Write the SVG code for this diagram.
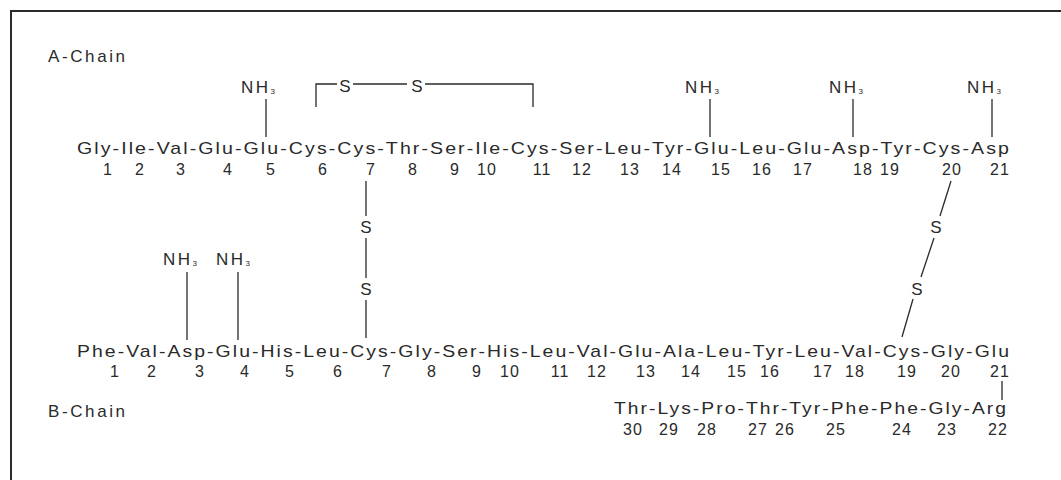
<svg xmlns="http://www.w3.org/2000/svg" width="1061" height="480" viewBox="0 0 1061 480">
<style>
text{font-family:"Liberation Sans",Arial,sans-serif;fill:#2a2a2a;}
.seq{font-size:17px;letter-spacing:1.8px;}
.num{font-size:16px;text-anchor:middle;letter-spacing:1px;}
.lbl{font-size:17px;letter-spacing:2.6px;}
.s{font-size:17px;text-anchor:middle;}
.nh{font-size:17px;letter-spacing:2.5px;}
.sub{font-size:8px;letter-spacing:0;}
.ln{stroke:#2a2a2a;stroke-width:1.3;fill:none;}
</style>
<rect width="1061" height="480" fill="#ffffff"/>
<polyline points="11,480 11,11 1061,11" fill="none" stroke="#2a2a2a" stroke-width="2"/>

<g id="a-chain">
<text class="lbl" x="48" y="62">A-Chain</text>
<text class="seq" x="77" y="154" textLength="934" lengthAdjust="spacingAndGlyphs">Gly-Ile-Val-Glu-Glu-Cys-Cys-Thr-Ser-Ile-Cys-Ser-Leu-Tyr-Glu-Leu-Glu-Asp-Tyr-Cys-Asp</text>
<g>
<text class="num" x="108" y="175">1</text>
<text class="num" x="140" y="175">2</text>
<text class="num" x="181" y="175">3</text>
<text class="num" x="228" y="175">4</text>
<text class="num" x="271" y="175">5</text>
<text class="num" x="323" y="175">6</text>
<text class="num" x="371" y="175">7</text>
<text class="num" x="413" y="175">8</text>
<text class="num" x="455" y="175">9</text>
<text class="num" x="487" y="175">10</text>
<text class="num" x="542" y="175">11</text>
<text class="num" x="582" y="175">12</text>
<text class="num" x="630" y="175">13</text>
<text class="num" x="672" y="175">14</text>
<text class="num" x="721" y="175">15</text>
<text class="num" x="762" y="175">16</text>
<text class="num" x="803" y="175">17</text>
<text class="num" x="863" y="175">18</text>
<text class="num" x="890" y="175">19</text>
<text class="num" x="952" y="175">20</text>
<text class="num" x="1000" y="175">21</text>
</g>
</g>

<g id="b-chain">
<text class="lbl" x="48" y="417">B-Chain</text>
<text class="seq" x="77" y="357" textLength="934" lengthAdjust="spacingAndGlyphs">Phe-Val-Asp-Glu-His-Leu-Cys-Gly-Ser-His-Leu-Val-Glu-Ala-Leu-Tyr-Leu-Val-Cys-Gly-Glu</text>
<g>
<text class="num" x="115" y="377">1</text>
<text class="num" x="152" y="377">2</text>
<text class="num" x="200" y="377">3</text>
<text class="num" x="245" y="377">4</text>
<text class="num" x="290" y="377">5</text>
<text class="num" x="338" y="377">6</text>
<text class="num" x="387" y="377">7</text>
<text class="num" x="432" y="377">8</text>
<text class="num" x="477" y="377">9</text>
<text class="num" x="510" y="377">10</text>
<text class="num" x="560" y="377">11</text>
<text class="num" x="597" y="377">12</text>
<text class="num" x="646" y="377">13</text>
<text class="num" x="691" y="377">14</text>
<text class="num" x="737" y="377">15</text>
<text class="num" x="770" y="377">16</text>
<text class="num" x="823" y="377">17</text>
<text class="num" x="855" y="377">18</text>
<text class="num" x="907" y="377">19</text>
<text class="num" x="951" y="377">20</text>
<text class="num" x="1000" y="377">21</text>
</g>
</g>

<g id="b-tail">
<text class="seq" x="614" y="414" textLength="394" lengthAdjust="spacingAndGlyphs">Thr-Lys-Pro-Thr-Tyr-Phe-Phe-Gly-Arg</text>
<text class="num" x="633" y="435">30</text>
<text class="num" x="669" y="435">29</text>
<text class="num" x="707" y="435">28</text>
<text class="num" x="758" y="435">27</text>
<text class="num" x="785" y="435">26</text>
<text class="num" x="836" y="435">25</text>
<text class="num" x="902" y="435">24</text>
<text class="num" x="947" y="435">23</text>
<text class="num" x="998" y="435">22</text>
</g>

<g id="nh3-a5"><text class="nh" x="241" y="93">NH<tspan class="sub" dy="1">3</tspan></text></g>
<g id="nh3-a15"><text class="nh" x="685" y="93">NH<tspan class="sub" dy="1">3</tspan></text></g>
<g id="nh3-a18"><text class="nh" x="829" y="93">NH<tspan class="sub" dy="1">3</tspan></text></g>
<g id="nh3-a21"><text class="nh" x="967" y="93">NH<tspan class="sub" dy="1">3</tspan></text></g>
<g id="nh3-b3"><text class="nh" x="163" y="265">NH<tspan class="sub" dy="1">3</tspan></text></g>
<g id="nh3-b4"><text class="nh" x="216" y="265">NH<tspan class="sub" dy="1">3</tspan></text></g>

<g id="s-a6"><text class="s" x="345" y="92">S</text></g>
<g id="s-a11"><text class="s" x="417" y="92">S</text></g>
<g id="s-a7"><text class="s" x="366" y="233">S</text></g>
<g id="s-b7"><text class="s" x="366" y="295">S</text></g>
<g id="s-a20"><text class="s" x="936" y="233">S</text></g>
<g id="s-b19"><text class="s" x="917" y="295">S</text></g>

<g id="connectors">
<polyline class="ln" points="316,107 316,84 337,84"/>
<line class="ln" x1="353" y1="84" x2="407" y2="84"/>
<polyline class="ln" points="425,84 533,84 533,107"/>
<line class="ln" x1="266" y1="99" x2="266" y2="137"/>
<line class="ln" x1="710" y1="99" x2="710" y2="137"/>
<line class="ln" x1="853" y1="99" x2="853" y2="137"/>
<line class="ln" x1="992" y1="99" x2="992" y2="137"/>
<line class="ln" x1="366" y1="181" x2="366" y2="216"/>
<line class="ln" x1="366" y1="238" x2="366" y2="278"/>
<line class="ln" x1="366" y1="300" x2="366" y2="338"/>
<line class="ln" x1="951" y1="181" x2="940" y2="216"/>
<line class="ln" x1="934" y1="238" x2="921" y2="277"/>
<line class="ln" x1="913" y1="299" x2="902" y2="337"/>
<line class="ln" x1="187" y1="272" x2="187" y2="340"/>
<line class="ln" x1="238" y1="272" x2="238" y2="340"/>
<line class="ln" x1="1002" y1="381" x2="1002" y2="400"/>
</g>
</svg>
